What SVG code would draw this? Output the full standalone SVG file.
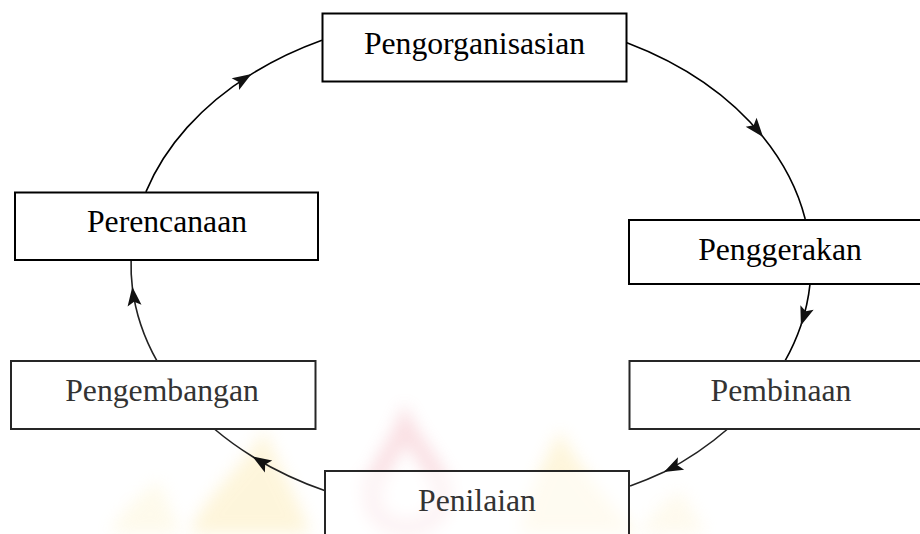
<svg xmlns="http://www.w3.org/2000/svg" width="920" height="534" viewBox="0 0 920 534">
  <style>
    .box { fill: #ffffff; stroke: #000000; stroke-width: 2; }
    .box.soft { stroke: #262626; }
    text.lbl { font-family: 'Liberation Serif', 'DejaVu Serif', serif; font-size: 31.7px; text-anchor: middle; fill: #000000; }
    text.lbl.soft { fill: #333333; }
    .conn { fill: none; stroke: #000000; stroke-width: 1.6; marker-mid: url(#arrow); }
    .conn.soft { stroke: #222222; }
  </style>
  <defs>
    <marker id="arrow" viewBox="-20 -8 21 16" markerWidth="21" markerHeight="16" refX="0" refY="0" orient="auto" markerUnits="userSpaceOnUse">
      <path d="M0,0 L-19,-7 L-15,0 L-19,7 Z" fill="#111111"/>
    </marker>
    <filter id="blur" x="-30%" y="-30%" width="160%" height="160%">
      <feGaussianBlur stdDeviation="8"/>
    </filter>
  </defs>
  <rect width="920" height="534" fill="#ffffff"/>

  <g id="watermark" filter="url(#blur)" opacity="0.3">
    <path d="M190,534 C200,500 240,470 265,430 C280,470 300,500 310,534 Z" fill="#fbe08a"/>
    <path d="M110,534 C120,510 140,495 160,480 C165,500 175,515 180,534 Z" fill="#fdf0c0"/>
    <path d="M520,534 C525,495 545,460 560,430 C580,470 610,500 635,534 Z" fill="#fbe08a"/>
    <path d="M640,534 C650,515 665,500 680,490 C690,505 700,520 705,534 Z" fill="#fdf0c8"/>
    <path d="M405,425 C395,450 375,470 372,495 C370,515 388,528 407,528 C426,528 444,515 442,495 C440,470 418,450 405,425 Z" fill="none" stroke="#ee98a4" stroke-width="18"/>
    <path d="M360,482 L380,482 M430,482 L452,482" stroke="#f0acb6" stroke-width="10"/>
  </g>

  <g id="connectors">
    <path class="conn" d="M145.9,191.9 A340,250 0 0 1 251.5,74.1 A340,250 0 0 1 321.9,40.3"/>
    <path class="conn" d="M626.9,42.8 A340,250 0 0 1 763.1,137 A340,250 0 0 1 805.2,219"/>
    <path class="conn" d="M810,284.2 A340,250 0 0 1 800.9,325.5 A340,250 0 0 1 784.9,361.1"/>
    <path class="conn soft" d="M727.6,429 A340,250 0 0 1 664,472 A340,250 0 0 1 630.1,486"/>
    <path class="conn soft" d="M325.2,490.8 A340,250 0 0 1 252.4,456.5 A340,250 0 0 1 214.4,429"/>
    <path class="conn soft" d="M157.1,361.1 A340,250 0 0 1 132.3,286.8 A340,250 0 0 1 131.1,260.2"/>
  </g>

  <g id="pengorganisasian">
    <rect class="box" x="322.5" y="13.5" width="304" height="68"/>
    <text class="lbl" x="474.5" y="54" font-family="Liberation Serif, serif">Pengorganisasian</text>
  </g>
  <g id="perencanaan">
    <rect class="box" x="15" y="192.5" width="303" height="67.5"/>
    <text class="lbl" x="167" y="232" font-family="Liberation Serif, serif">Perencanaan</text>
  </g>
  <g id="penggerakan">
    <rect class="box" x="629" y="220" width="300" height="64"/>
    <text class="lbl" x="780" y="260" font-family="Liberation Serif, serif">Penggerakan</text>
  </g>
  <g id="pengembangan">
    <rect class="box soft" x="11" y="361" width="304.5" height="68"/>
    <text class="lbl soft" x="162" y="401" font-family="Liberation Serif, serif">Pengembangan</text>
  </g>
  <g id="pembinaan">
    <rect class="box soft" x="629.5" y="361" width="300" height="68"/>
    <text class="lbl soft" x="781" y="401" font-family="Liberation Serif, serif">Pembinaan</text>
  </g>
  <g id="penilaian">
    <rect class="box soft" x="325" y="471" width="304" height="100" fill-opacity="0.6"/>
    <text class="lbl soft" x="477" y="511" font-family="Liberation Serif, serif">Penilaian</text>
  </g>
</svg>
